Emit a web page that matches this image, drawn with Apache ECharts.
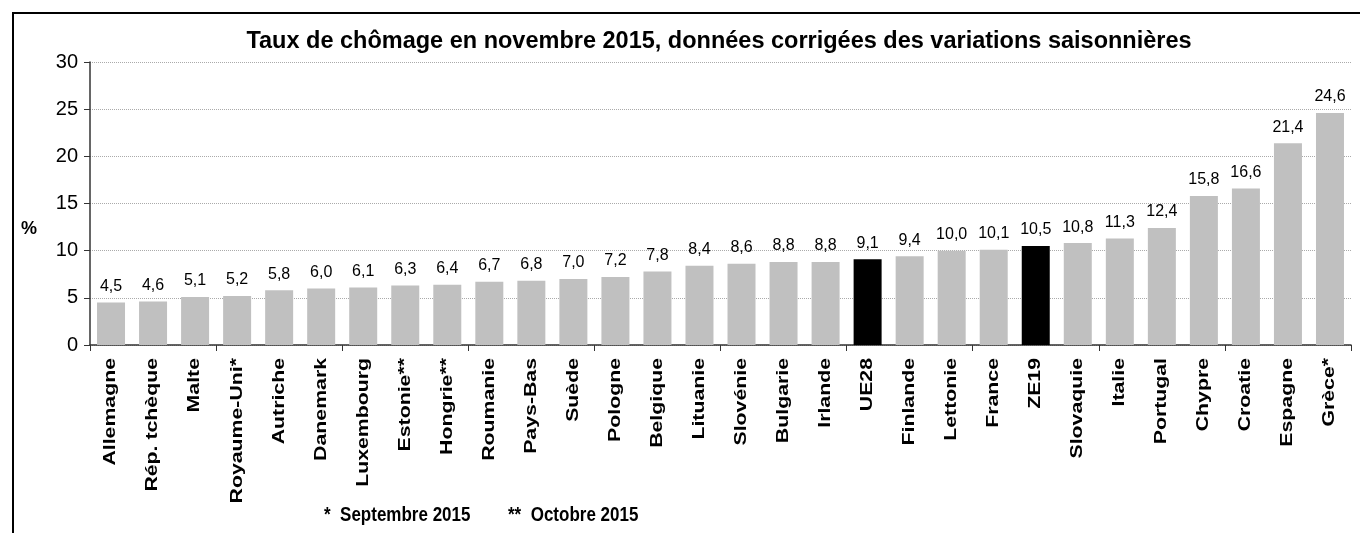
<!DOCTYPE html>
<html>
<head>
<meta charset="utf-8">
<script src="https://cdn.jsdelivr.net/npm/echarts@6/dist/echarts.min.js"></script>
<style>
  html, body { margin: 0; padding: 0; background: #fff; }
  #chart { width: 1360px; height: 533px; }
</style>
</head>
<body>
<div id="chart"></div>
<script>
const countries = ["Allemagne", "Rép. tchèque", "Malte", "Royaume-Uni*", "Autriche", "Danemark",
  "Luxembourg", "Estonie**", "Hongrie**", "Roumanie", "Pays-Bas", "Suède", "Pologne", "Belgique",
  "Lituanie", "Slovénie", "Bulgarie", "Irlande", "UE28", "Finlande", "Lettonie", "France", "ZE19",
  "Slovaquie", "Italie", "Portugal", "Chypre", "Croatie", "Espagne", "Grèce*"];
const rates = [4.5, 4.6, 5.1, 5.2, 5.8, 6.0, 6.1, 6.3, 6.4, 6.7, 6.8, 7.0, 7.2, 7.8, 8.4, 8.6,
  8.8, 8.8, 9.1, 9.4, 10.0, 10.1, 10.5, 10.8, 11.3, 12.4, 15.8, 16.6, 21.4, 24.6];
const aggregates = ["UE28", "ZE19"];

const chart = echarts.init(document.getElementById("chart"));
const font = "Arial, 'Liberation Sans', sans-serif";

const option = {
  animation: false,
  textStyle: { fontFamily: font },
  title: {
    text: "Taux de chômage en novembre 2015, données corrigées des variations saisonnières",
    left: 714,
    textAlign: "center",
    top: 25,
    textStyle: { fontSize: 23.5, fontWeight: "bold", color: "#000", fontFamily: font }
  },
  grid: { left: 90, right: 9, top: 62, bottom: 188 },
  xAxis: {
    type: "category",
    data: countries,
    axisLine: { lineStyle: { color: "#333", width: 1.5 } },
    axisTick: { show: true, length: 6, lineStyle: { color: "#333" } },
    // labels drawn below as stretched graphic text, like the original
    axisLabel: { show: false }
  },
  yAxis: {
    type: "value",
    min: 0,
    max: 30,
    interval: 5,
    axisLine: { show: true, lineStyle: { color: "#333", width: 1.5 } },
    axisTick: { show: true, length: 6, lineStyle: { color: "#333" } },
    axisLabel: { fontSize: 20, color: "#000", margin: 12, fontFamily: font },
    splitLine: { lineStyle: { color: "#aaa", type: [1, 1], width: 1 } }
  },
  series: [{
    type: "bar",
    barWidth: 28,
    data: rates.map((v, i) => ({
      value: v,
      itemStyle: { color: aggregates.includes(countries[i]) ? "#000" : "#c0c0c0" }
    })),
    label: {
      show: true,
      position: "top",
      distance: 8,
      fontSize: 16,
      color: "#000",
      fontFamily: font,
      formatter: p => p.value.toFixed(1).replace(".", ",")
    }
  }]
};

chart.setOption(option);

// category labels, rotated and stretched along their length
const catLabels = countries.map((name, i) => {
  const pt = chart.convertToPixel({ gridIndex: 0 }, [name, 0]);
  return {
    type: "text",
    x: pt[0],
    y: pt[1] + 13,
    rotation: Math.PI / 2,
    scaleX: 1.33,
    style: {
      text: name,
      fontSize: 16,
      fontWeight: "bold",
      fill: "#000",
      fontFamily: font,
      align: "right",
      verticalAlign: "middle"
    }
  };
});

chart.setOption({
  graphic: [
    {
      type: "rect",
      shape: { x: 13, y: 13, width: 1400, height: 600 },
      style: { fill: "none", stroke: "#000", lineWidth: 2 }
    },
    {
      type: "text",
      left: 21,
      top: 220,
      style: { text: "%", fontSize: 18, fontWeight: "bold", fill: "#000", fontFamily: font }
    },
    {
      type: "text",
      x: 324,
      y: 506,
      scaleY: 1.15,
      style: { text: "*  Septembre 2015", fontSize: 17, fontWeight: "bold", fill: "#000", fontFamily: font }
    },
    {
      type: "text",
      x: 508,
      y: 506,
      scaleY: 1.15,
      style: { text: "**  Octobre 2015", fontSize: 17, fontWeight: "bold", fill: "#000", fontFamily: font }
    }
  ].concat(catLabels)
});
</script>
</body>
</html>
